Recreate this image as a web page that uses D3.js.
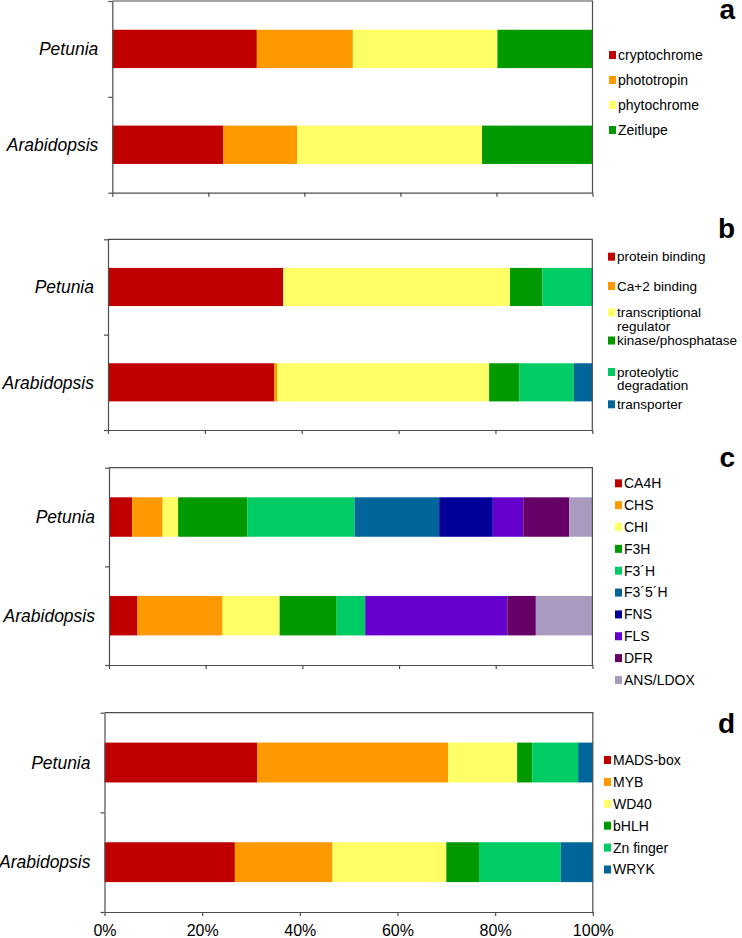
<!DOCTYPE html>
<html>
<head>
<meta charset="utf-8">
<script src="https://cdn.jsdelivr.net/npm/d3@7"></script>
<style>
  html, body { margin: 0; padding: 0; background: #fff; }
  svg { display: block; font-family: "Liberation Sans", Arial, sans-serif; }
</style>
</head>
<body>
<svg id="chart" width="742" height="938"></svg>
<script>
// ---------------- DATA ----------------
const categories = ["Petunia", "Arabidopsis"];
const tickValues = [0, 20, 40, 60, 80, 100];
const tickLabels = ["0%", "20%", "40%", "60%", "80%", "100%"];

// panel a : photoreceptors
const aSeries = ["cryptochrome", "phototropin", "phytochrome", "Zeitlupe"];
const aPetunia = [30.1, 20.0, 30.1, 19.8];
const aArabidopsis = [23.1, 15.4, 38.5, 23.0];

// panel b : functional classes
const bSeries = ["protein binding", "Ca+2 binding", "transcriptional\nregulator", "kinase/phosphatase", "proteolytic\ndegradation", "transporter"];
const bPetunia = [36.2, 0, 46.8, 6.7, 10.3, 0];
const bArabidopsis = [34.3, 0.7, 43.7, 6.2, 11.3, 3.8];

// panel c : flavonoid pathway enzymes
const cSeries = ["CA4H", "CHS", "CHI", "F3H", "F3\u00B4H", "F3\u00B45\u00B4H", "FNS", "FLS", "DFR", "ANS/LDOX"];
const cPetunia = [4.8, 6.3, 3.2, 14.3, 22.2, 17.5, 11.1, 6.3, 9.5, 4.8];
const cArabidopsis = [5.9, 17.6, 11.8, 11.8, 5.9, 0, 0, 29.4, 5.9, 11.8];

// panel d : transcription factor families
const dSeries = ["MADS-box", "MYB", "WD40", "bHLH", "Zn finger", "WRYK"];
const dPetunia = [31.3, 39.1, 14.1, 3.1, 9.4, 3.0];
const dArabidopsis = [26.7, 20.0, 23.3, 6.7, 16.7, 6.6];

// ---------------- STYLE / LAYOUT ----------------
const colors = {
  red: "#C00000", orange: "#FF9900", yellow: "#FFFF66", green: "#009900",
  spring: "#00CC66", blue: "#006699", navy: "#000099", purple: "#6600CC",
  plum: "#660066", lavender: "#A99BC0"
};
const axisColor = "#4d4d4d";

const panels = [
  { letter: "a", series: aSeries, values: [aPetunia, aArabidopsis],
    palette: [colors.red, colors.orange, colors.yellow, colors.green],
    left: 112.3, right: 592.5, top: 1, bottom: 192.7,
    letterY: 19, legendX: 609, legendY0: 55, legendStep: 25, legendFont: 14, showLabels: false },
  { letter: "b", series: bSeries, values: [bPetunia, bArabidopsis],
    palette: [colors.red, colors.orange, colors.yellow, colors.green, colors.spring, colors.blue],
    left: 108, right: 592.3, top: 239.3, bottom: 430,
    letterY: 238, legendX: 608, legendYs: [256.7, 286, 312.5, 340.5, 372, 404.3], legendFont: 13.5, lineGap: 13.5, showLabels: false },
  { letter: "c", series: cSeries, values: [cPetunia, cArabidopsis],
    palette: [colors.red, colors.orange, colors.yellow, colors.green, colors.spring, colors.blue, colors.navy, colors.purple, colors.plum, colors.lavender],
    left: 109, right: 592.4, top: 467.7, bottom: 665,
    letterY: 466.5, legendX: 615, legendY0: 483.3, legendStep: 21.85, legendFont: 14, showLabels: false },
  { letter: "d", series: dSeries, values: [dPetunia, dArabidopsis],
    palette: [colors.red, colors.orange, colors.yellow, colors.green, colors.spring, colors.blue],
    left: 104.5, right: 592.8, top: 712.7, bottom: 912,
    letterY: 733, legendX: 604, legendY0: 760, legendStep: 21.9, legendFont: 14, showLabels: true }
];

const svg = d3.select("#chart");

panels.forEach(p => {
  const g = svg.append("g");
  const keys = p.series.map((s, i) => "s" + i);
  const rows = categories.map((c, ci) => {
    const r = { cat: c };
    keys.forEach((k, i) => r[k] = p.values[ci][i]);
    return r;
  });
  const stacked = d3.stack().keys(keys)(rows);

  const x = d3.scaleLinear().domain([0, 100]).range([p.left, p.right]);
  const y = d3.scaleBand().domain(categories).range([p.top, p.bottom])
    .paddingInner(0.6).paddingOuter(0.3);

  // bars
  g.selectAll("g.layer").data(stacked).join("g")
    .attr("class", "layer")
    .attr("fill", (d, i) => p.palette[i])
    .selectAll("rect").data(d => d).join("rect")
    .attr("x", d => x(d[0]))
    .attr("width", d => Math.max(0, x(Math.min(100, d[1])) - x(d[0])))
    .attr("y", d => y(d.data.cat))
    .attr("height", y.bandwidth());

  // frame (top + right)
  g.append("path")
    .attr("d", `M${p.left},${p.top}H${p.right}V${p.bottom}`)
    .attr("fill", "none").attr("stroke", axisColor).attr("stroke-width", 1.2);

  // left axis (ticks at category boundaries)
  const yb = d3.scaleLinear().domain([0, categories.length]).range([p.top, p.bottom]);
  const ya = g.append("g").attr("transform", `translate(${p.left},0)`)
    .call(d3.axisLeft(yb).tickValues(d3.range(categories.length + 1)).tickFormat("").tickSize(4).tickSizeOuter(0));
  ya.select(".domain").attr("stroke", axisColor).attr("stroke-width", 1.2);
  ya.selectAll(".tick line").attr("stroke", axisColor).attr("stroke-width", 1.2);

  // bottom axis
  const xa = g.append("g").attr("transform", `translate(0,${p.bottom})`)
    .call(d3.axisBottom(x).tickValues(tickValues).tickSize(4).tickSizeOuter(0).tickPadding(9)
      .tickFormat((d, i) => p.showLabels ? tickLabels[i] : ""));
  xa.select(".domain").attr("stroke", axisColor).attr("stroke-width", 1.2);
  xa.selectAll(".tick line").attr("stroke", axisColor).attr("stroke-width", 1.2);
  xa.selectAll(".tick text").attr("fill", "#000").attr("font-size", 16)
    .attr("font-family", "'Liberation Sans', Arial, sans-serif");

  // category labels
  g.selectAll("text.cat").data(categories).join("text")
    .attr("class", "cat")
    .attr("x", p.left - 14)
    .attr("y", d => y(d) + y.bandwidth() / 2)
    .attr("dy", "0.36em")
    .attr("text-anchor", "end")
    .attr("font-size", 17.5)
    .attr("font-style", "italic")
    .attr("fill", "#000")
    .text(d => d);

  // panel letter
  g.append("text")
    .attr("x", 735).attr("y", p.letterY)
    .attr("text-anchor", "end")
    .attr("font-size", 28).attr("font-weight", "bold")
    .attr("fill", "#000")
    .text(p.letter);

  // legend
  const lg = g.append("g");
  p.series.forEach((name, i) => {
    const ly = p.legendYs ? p.legendYs[i] : p.legendY0 + i * p.legendStep;
    lg.append("rect")
      .attr("x", p.legendX).attr("y", ly - 4)
      .attr("width", 7).attr("height", 8)
      .attr("fill", p.palette[i]);
    const t = lg.append("text")
      .attr("x", p.legendX + 9).attr("y", ly)
      .attr("font-size", p.legendFont)
      .attr("fill", "#000");
    name.split("\n").forEach((line, li) => {
      t.append("tspan").attr("x", p.legendX + 9)
        .attr("dy", li === 0 ? "0.35em" : String(p.lineGap || 12.3))
        .text(line);
    });
  });
});
</script>
</body>
</html>
